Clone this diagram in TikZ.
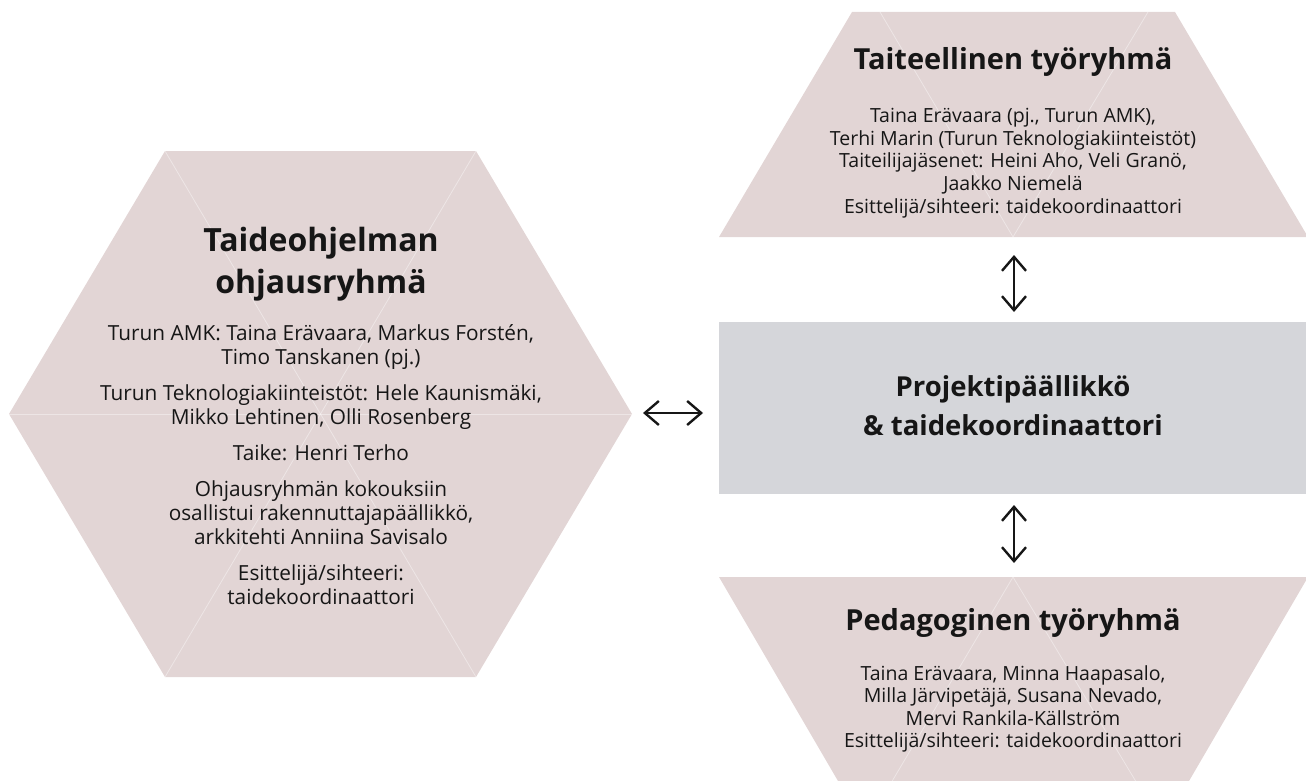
\documentclass[tikz,border=0pt]{standalone}
\usepackage{fontspec}
\setmainfont{Open Sans}
\usetikzlibrary{arrows.meta}
\definecolor{pinkfill}{RGB}{226,213,213}
\definecolor{grayfill}{RGB}{213,214,218}
\definecolor{txt}{RGB}{22,22,22}
\tikzset{
  seam/.style={white,opacity=0.4,line width=0.8pt},
  bodytxt/.style={align=center,text=txt,font=\fontsize{19.5}{22.6}\selectfont,inner sep=0pt},
  hexbody/.style={align=center,text=txt,font=\fontsize{20.8}{24}\selectfont,inner sep=0pt},
  titletxt/.style={align=center,text=txt,font=\bfseries\fontsize{29}{34}\selectfont,inner sep=0pt},
  bigtitle/.style={align=center,text=txt,font=\bfseries\fontsize{32}{42}\selectfont,inner sep=0pt},
  midtitle/.style={align=center,text=txt,font=\bfseries\fontsize{27.5}{39}\selectfont,inner sep=0pt},
  barb/.tip={Straight Barb[length=14pt,width=24pt,line width=2.4pt]},
  link/.style={txt,line width=2.4pt,barb-barb}
}
\begin{document}
\begin{tikzpicture}[x=1pt,y=-1pt]
\useasboundingbox (0,0) rectangle (1306,781);
\clip (0,0) rectangle (1306,781);
% hexagon
\fill[pinkfill] (9,414) -- (165,151) -- (476,151) -- (632,414) -- (476,677) -- (165,677) -- cycle;
\draw[seam] (9,414) -- (632,414);
\draw[seam] (165,151) -- (476,677);
\draw[seam] (476,151) -- (165,677);
% top trapezoid
\fill[pinkfill] (852,12) -- (1175,12) -- (1308,237) -- (719,237) -- cycle;
\draw[seam] (880,12) -- (1013,237) -- (1148,12);
% bottom trapezoid
\fill[pinkfill] (719,577) -- (1308,577) -- (1175,805) -- (852,805) -- cycle;
\draw[seam] (878,805) -- (1013,577) -- (1150,805);
% centre rectangle
\node[fill=grayfill,minimum width=587pt,minimum height=172pt,inner sep=0pt,anchor=north west] (pm) at (719,322) {};
\node[midtitle] (pmt) at (1013,406) {Projektipäällikkö\\\& taidekoordinaattori};
% hexagon text
\node[bigtitle] (ht) at (321,264) {Taideohjelman\\ohjausryhmä};
\node[hexbody] (hb) at (321,465) {Turun AMK: Taina Erävaara, Markus Forstén,\\Timo Tanskanen (pj.)\\[12pt]
Turun Teknologiakiinteistöt: Hele Kaunismäki,\\Mikko Lehtinen, Olli Rosenberg\\[12pt]
Taike: Henri Terho\\[12pt]
Ohjausryhmän kokouksiin\\osallistui rakennuttajapäällikkö,\\arkkitehti Anniina Savisalo\\[12pt]
Esittelijä/sihteeri:\\taidekoordinaattori};
% top text
\node[titletxt] (tt) at (1013,62) {Taiteellinen työryhmä};
\node[bodytxt] (tb) at (1013,163) {Taina Erävaara (pj., Turun AMK),\\Terhi Marin (Turun Teknologiakiinteistöt)\\Taiteilijajäsenet: Heini Aho, Veli Granö,\\Jaakko Niemelä\\Esittelijä/sihteeri: taidekoordinaattori};
% bottom text
\node[titletxt] (bt) at (1013,623) {Pedagoginen työryhmä};
\node[bodytxt] (bb) at (1013,709) {Taina Erävaara, Minna Haapasalo,\\Milla Järvipetäjä, Susana Nevado,\\Mervi Rankila-Källström\\Esittelijä/sihteeri: taidekoordinaattori};
% connectors
\coordinate (h1) at (643,413);
\coordinate (h2) at (703,413);
\coordinate (v1) at (1014,255);
\coordinate (v2) at (1014,312);
\coordinate (v3) at (1014,505);
\coordinate (v4) at (1014,563);
\draw[link] (h1) -- (h2);
\draw[link] (v1) -- (v2);
\draw[link] (v3) -- (v4);
\end{tikzpicture}
\end{document}
